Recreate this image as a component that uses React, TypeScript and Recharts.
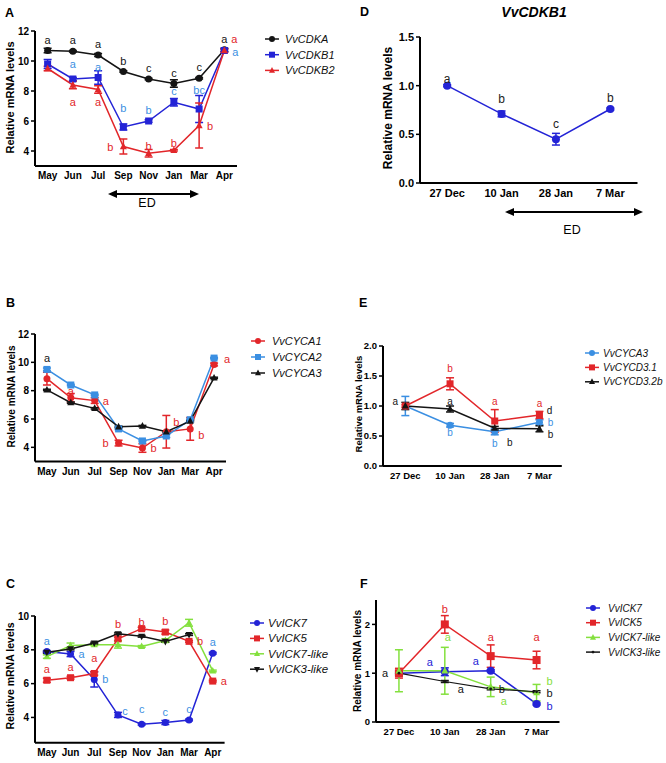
import React from 'react';
import { LineChart, Line, XAxis, YAxis, ErrorBar } from 'recharts';

const FONT = '"Liberation Sans", Arial, Helvetica, sans-serif';
const BLACK = '#141414';
const BLUE = '#2323d6';
const SKY = '#3b8fe2';
const RED = '#e2262a';
const GREEN = '#84e03e';

// x categories
const seasonMonths = ['May', 'Jun', 'Jul', 'Sep', 'Nov', 'Jan', 'Mar', 'Apr'];
const winterDates = ['27 Dec', '10 Jan', '28 Jan', '7 Mar'];

// panel A
const cdkaLevels = [10.7, 10.65, 10.4, 9.3, 8.8, 8.5, 8.85, 10.75];
const cdkaErrors = [0.15, 0.05, 0.1, 0.05, 0.05, 0.25, 0.05, 0.1];
const cdkaLetters = ['a', 'a', 'a', 'b', 'c', 'c', 'c', 'a'];
const cdkb1Levels = [9.8, 8.8, 8.9, 5.6, 6.0, 7.25, 6.8, 10.7];
const cdkb1Errors = [0.3, 0.1, 0.45, 0.2, 0.08, 0.25, 0.9, 0.1];
const cdkb1Letters = ['', 'a', 'a', 'b', 'b', 'c', 'bc', 'a'];
const cdkb2Levels = [9.5, 8.4, 8.1, 4.3, 3.85, 4.05, 5.7, 10.7];
const cdkb2Errors = [0.15, 0.25, 0.25, 0.5, 0.25, 0.05, 1.5, 0.1];
const cdkb2Letters = ['', 'a', 'a', 'b', 'b', 'b', 'b', 'a'];

// panel B
const cyca1Levels = [8.85, 7.5, 7.3, 4.3, 3.95, 5.1, 5.3, 9.85];
const cyca1Errors = [0.45, 0.3, 0.2, 0.2, 0.3, 1.15, 0.8, 0.1];
const cyca1Letters = ['', 'a', 'a', 'b', 'b', 'b', 'b', 'a'];
const cyca2Levels = [9.5, 8.4, 7.7, 5.3, 4.45, 4.8, 5.95, 10.3];
const cyca2Errors = [0.1, 0.05, 0.05, 0.05, 0.05, 0.1, 0.05, 0.05];
const cyca3Levels = [8.05, 7.15, 6.75, 5.45, 5.5, 5.1, 5.85, 8.9];
const cyca3Errors = [0.05, 0.05, 0.05, 0.05, 0.05, 0.05, 0.05, 0.05];
const cyca3Letters = ['a', '', '', '', '', '', '', ''];

// panel C
const ick7Levels = [7.9, 7.75, 6.25, 4.15, 3.6, 3.7, 3.85, 7.8];
const ick7Errors = [0.05, 0.15, 0.45, 0.15, 0.05, 0.12, 0.05, 0.05];
const ick7Letters = ['a', 'a', 'b', 'c', 'c', 'c', 'c', 'a'];
const ick5Levels = [6.2, 6.35, 6.6, 8.65, 9.25, 9.05, 8.5, 6.15];
const ick5Errors = [0.12, 0.08, 0.1, 0.1, 0.08, 0.12, 0.05, 0.05];
const ick5Letters = ['a', 'a', 'a', 'b', 'b', 'b', 'b', 'a'];
const ick7LikeLevels = [7.6, 8.25, 8.3, 8.3, 8.2, 8.55, 9.6, 6.75];
const ick7LikeErrors = [0.1, 0.15, 0.05, 0.2, 0.05, 0.1, 0.2, 0.05];
const ick3LikeLevels = [7.85, 8.05, 8.4, 8.95, 8.8, 8.5, 8.9, null];
const ick3LikeErrors = [0.05, 0.05, 0.05, 0.05, 0.05, 0.05, 0.05, 0];

// panel D
const cdkb1WinterLevels = [1.0, 0.71, 0.45, 0.76];
const cdkb1WinterErrors = [0.01, 0.03, 0.06, 0.01];
const cdkb1WinterLetters = ['a', 'b', 'c', 'b'];

// panel E
const cyca3WinterLevels = [1.0, 0.68, 0.57, 0.73];
const cyca3WinterErrors = [0.16, 0.03, 0.05, 0.04];
const cyca3WinterLetters = ['', 'b', 'b', 'b'];
const cycd31Levels = [1.0, 1.37, 0.75, 0.85];
const cycd31Errors = [0.02, 0.1, 0.19, 0.06];
const cycd31Letters = ['', 'b', 'a', 'a'];
const cycd32bLevels = [1.0, 0.95, 0.63, 0.62];
const cycd32bErrors = [0.06, 0.05, 0.03, 0.05];
const cycd32bLetters = ['a', 'a', 'b', 'b'];
const cycd32bExtraLetters = ['', '', '', 'd'];

// panel F
const ick7WinterLevels = [1.0, 1.03, 1.05, 0.37];
const ick7WinterErrors = [0.05, 0.08, 0.02, 0.02];
const ick7WinterLetters = ['', 'a', 'a', 'b'];
const ick5WinterLevels = [1.0, 2.0, 1.35, 1.27];
const ick5WinterErrors = [0.1, 0.18, 0.23, 0.18];
const ick5WinterLetters = ['', 'b', 'a', 'a'];
const ick7LikeWinterLevels = [1.05, 1.05, 0.72, 0.6];
const ick7LikeWinterErrors = [0.43, 0.48, 0.2, 0.17];
const ick7LikeWinterLetters = ['', 'a', 'a', 'b'];
const ick3LikeWinterLevels = [1.0, 0.83, 0.68, 0.62];
const ick3LikeWinterErrors = [0.02, 0.02, 0.02, 0.02];
const ick3LikeWinterLetters = ['a', 'a', 'b', 'b'];

// where each significance letter sits relative to its point
const OFFSETS: Record<string, [number, number]> = {
  u1: [0, -7], u: [0, -11], u2: [0, -15], u3: [0, -19], u4: [0, -23], u5: [0, -32], u6: [3, -34],
  d1: [0, 7], d: [0, 12], d2: [0, 17],
  r: [11, 0], r1: [11, 1], r2: [13, 0], rl: [11, 6], rb: [13, 2], rc: [13, 1], l: [-13, 0], l2: [-14, 0],
  ur: [10, -10], urh: [10, -12], ur1: [13, -5], ur2: [7, -4], ur3: [10, -18], ur4: [13, -12],
  dr: [13, 14], dr1: [11, 6], dr2: [15, 14], dr3: [16, 8],
  ul: [-15, -10], ul2: [-10, -4],
};

type Shape = 'circle' | 'square' | 'triangle' | 'down' | 'tick';
type LetterSet = { text: string[]; sides: string[]; color: string };
type SeriesDef = {
  name: string;
  values: (number | null)[];
  errors: number[];
  color: string;
  shape: Shape;
  size?: number;
  width?: number;
  letters?: LetterSet[];
};

function drawMarker(shape: Shape, cx: number, cy: number, color: string, s: number) {
  switch (shape) {
    case 'circle':
      return <circle cx={cx} cy={cy} r={s} fill={color} />;
    case 'square':
      return <rect x={cx - s} y={cy - s} width={2 * s} height={2 * s} fill={color} />;
    case 'triangle':
      return <polygon points={`${cx},${cy - s * 1.15} ${cx + s},${cy + s * 0.75} ${cx - s},${cy + s * 0.75}`} fill={color} />;
    case 'down':
      return <polygon points={`${cx},${cy + s * 1.15} ${cx + s},${cy - s * 0.75} ${cx - s},${cy - s * 0.75}`} fill={color} />;
    default:
      return <circle cx={cx} cy={cy} r={1.4} fill={color} />;
  }
}

const makeDot = (s: SeriesDef, fontSize: number) => (p: any) => {
  const { cx, cy, index } = p;
  const key = `${s.name}-${index}`;
  if (s.values[index] == null || cx == null || cy == null) return <g key={key} />;
  return (
    <g key={key}>
      {drawMarker(s.shape, cx, cy, s.color, s.size ?? 3.5)}
      {(s.letters || []).map((set, j) => {
        const t = set.text[index];
        if (!t) return null;
        const [dx, dy] = OFFSETS[set.sides[index]] || [0, -11];
        return (
          <text key={j} x={cx + dx} y={cy + dy} textAnchor="middle" dominantBaseline="central"
            fill={set.color} fontSize={fontSize} fontFamily={FONT}>{t}</text>
        );
      })}
    </g>
  );
};

type Box = { l: number; r: number; t: number; b: number };

function Panel({ box, categories, series, domain, ticks, decimals = 0, tickFont = 10, letterFont = 11 }: {
  box: Box; categories: string[]; series: SeriesDef[]; domain: [number, number]; ticks: number[];
  decimals?: number; tickFont?: number; letterFont?: number;
}) {
  const yw = 36, mt = 44, mr = 34, xh = 26;
  const plotW = box.r - box.l;
  const band = plotW / categories.length;
  const rows = categories.map((cat, i) => {
    const row: Record<string, any> = { cat };
    series.forEach((s, k) => {
      row[`v${k}`] = s.values[i];
      row[`e${k}`] = s.errors[i];
    });
    return row;
  });
  const tickStyle = { fill: '#000', fontSize: tickFont, fontWeight: 700, fontFamily: FONT };
  const axisLine = { stroke: '#000', strokeWidth: 2 };
  const tickLine = { stroke: '#000', strokeWidth: 1.5 };
  return (
    <div style={{ position: 'absolute', left: box.l - yw, top: box.t - mt }}>
      <LineChart width={yw + plotW + mr} height={mt + (box.b - box.t) + xh} data={rows}
        margin={{ top: mt, right: mr, left: 0, bottom: 0 }}>
        <XAxis dataKey="cat" interval={0} height={xh} padding={{ left: band / 2, right: band / 2 }}
          tick={tickStyle} tickSize={4} tickMargin={2} axisLine={axisLine} tickLine={false} />
        <YAxis type="number" domain={domain} ticks={ticks} width={yw} interval={0}
          tickFormatter={(v: number) => Number(v).toFixed(decimals)}
          tick={tickStyle} tickSize={4} tickMargin={2} axisLine={axisLine} tickLine={tickLine} />
        {series.map((s, k) => (
          <Line key={s.name} dataKey={`v${k}`} stroke={s.color} strokeWidth={s.width ?? 1.5}
            isAnimationActive={false} activeDot={false} dot={makeDot(s, letterFont)}>
            <ErrorBar dataKey={`e${k}`} width={4} strokeWidth={1.5} stroke={s.color} direction="y" />
          </Line>
        ))}
      </LineChart>
    </div>
  );
}

const seriesA: SeriesDef[] = [
  { name: 'VvCDKA', values: cdkaLevels, errors: cdkaErrors, color: BLACK, shape: 'circle',
    letters: [{ text: cdkaLetters, sides: ['u', 'u', 'u', 'u', 'u', 'u', 'u', 'u'], color: BLACK }] },
  { name: 'VvCDKB1', values: cdkb1Levels, errors: cdkb1Errors, color: BLUE, shape: 'square',
    letters: [{ text: cdkb1Letters, sides: ['', 'u2', 'u', 'u3', 'u', 'u', 'u3', 'r1'], color: SKY }] },
  { name: 'VvCDKB2', values: cdkb2Levels, errors: cdkb2Errors, color: RED, shape: 'triangle',
    letters: [{ text: cdkb2Letters, sides: ['', 'd2', 'd', 'l', 'u1', 'u1', 'r', 'urh'], color: RED }] },
];

const seriesB: SeriesDef[] = [
  { name: 'VvCYCA1', values: cyca1Levels, errors: cyca1Errors, color: RED, shape: 'circle',
    letters: [{ text: cyca1Letters, sides: ['', 'u1', 'r', 'l', 'r', 'ur', 'dr1', 'ur1'], color: RED }] },
  { name: 'VvCYCA2', values: cyca2Levels, errors: cyca2Errors, color: SKY, shape: 'square' },
  { name: 'VvCYCA3', values: cyca3Levels, errors: cyca3Errors, color: BLACK, shape: 'triangle',
    letters: [{ text: cyca3Letters, sides: ['u5', '', '', '', '', '', '', ''], color: BLACK }] },
];

const seriesC: SeriesDef[] = [
  { name: 'VvICK7', values: ick7Levels, errors: ick7Errors, color: BLUE, shape: 'circle',
    letters: [{ text: ick7Letters, sides: ['u', 'r', 'r', 'ur2', 'u2', 'u', 'u', 'u'], color: SKY }] },
  { name: 'VvICK5', values: ick5Levels, errors: ick5Errors, color: RED, shape: 'square',
    letters: [{ text: ick5Letters, sides: ['u', 'u', 'u2', 'u2', 'u1', 'u', 'r', 'r'], color: RED }] },
  { name: 'VvICK7-like', values: ick7LikeLevels, errors: ick7LikeErrors, color: GREEN, shape: 'triangle' },
  { name: 'VvICK3-like', values: ick3LikeLevels, errors: ick3LikeErrors, color: BLACK, shape: 'down' },
];

const seriesD: SeriesDef[] = [
  { name: 'VvCDKB1', values: cdkb1WinterLevels, errors: cdkb1WinterErrors, color: BLUE, shape: 'circle', size: 4,
    letters: [{ text: cdkb1WinterLetters, sides: ['u1', 'u2', 'u2', 'u'], color: '#222' }] },
];

const seriesE: SeriesDef[] = [
  { name: 'VvCYCA3', values: cyca3WinterLevels, errors: cyca3WinterErrors, color: SKY, shape: 'circle',
    letters: [{ text: cyca3WinterLetters, sides: ['', 'd1', 'd', 'r'], color: SKY }] },
  { name: 'VvCYCD3.1', values: cycd31Levels, errors: cycd31Errors, color: RED, shape: 'square',
    letters: [{ text: cycd31Letters, sides: ['', 'u2', 'u3', 'u'], color: RED }] },
  { name: 'VvCYCD3.2b', values: cycd32bLevels, errors: cycd32bErrors, color: BLACK, shape: 'triangle',
    letters: [
      { text: cycd32bLetters, sides: ['ul2', 'u1', 'dr2', 'rl'], color: BLACK },
      { text: cycd32bExtraLetters, sides: ['', '', '', 'ur3'], color: BLACK },
    ] },
];

const seriesF: SeriesDef[] = [
  { name: 'VvICK7', values: ick7WinterLevels, errors: ick7WinterErrors, color: BLUE, shape: 'circle', size: 4,
    letters: [{ text: ick7WinterLetters, sides: ['', 'ul', 'ul', 'rb'], color: BLUE }] },
  { name: 'VvICK5', values: ick5WinterLevels, errors: ick5WinterErrors, color: RED, shape: 'square', size: 4,
    letters: [{ text: ick5WinterLetters, sides: ['', 'u2', 'u3', 'u4'], color: RED }] },
  { name: 'VvICK7-like', values: ick7LikeWinterLevels, errors: ick7LikeWinterErrors, color: GREEN, shape: 'triangle',
    letters: [{ text: ick7LikeWinterLetters, sides: ['', 'u6', 'dr', 'ur4'], color: GREEN }] },
  { name: 'VvICK3-like', values: ick3LikeWinterLevels, errors: ick3LikeWinterErrors, color: BLACK, shape: 'tick', width: 1.2,
    letters: [{ text: ick3LikeWinterLetters, sides: ['l2', 'dr3', 'r', 'rc'], color: BLACK }] },
];

function LegendBlock({ mx, tx, y0, gap, items, fontSize }: {
  mx: number; tx: number; y0: number; gap: number; items: SeriesDef[]; fontSize: number;
}) {
  return (
    <g>
      {items.map((s, i) => {
        const y = y0 + i * gap;
        return (
          <g key={s.name}>
            <line x1={mx - 7} x2={mx + 7} y1={y} y2={y} stroke={s.color} strokeWidth={1.5} />
            {drawMarker(s.shape, mx, y, s.color, s.shape === 'tick' ? 1 : 3)}
            <text x={tx} y={y} dominantBaseline="central" fontSize={fontSize} fontStyle="italic"
              fontFamily={FONT} fill="#111">{s.name}</text>
          </g>
        );
      })}
    </g>
  );
}

function YTitle({ cx, cy, size }: { cx: number; cy: number; size: number }) {
  return (
    <text x={cx} y={cy} transform={`rotate(-90 ${cx} ${cy})`} textAnchor="middle" dominantBaseline="central"
      fontSize={size} fontWeight={700} fontFamily={FONT} fill="#000">Relative mRNA levels</text>
  );
}

function EdArrow({ x1, x2, y, tx, ty }: { x1: number; x2: number; y: number; tx: number; ty: number }) {
  return (
    <g>
      <line x1={x1 + 6} x2={x2 - 6} y1={y} y2={y} stroke="#000" strokeWidth={2} />
      <polygon points={`${x1},${y} ${x1 + 9},${y - 4} ${x1 + 9},${y + 4}`} fill="#000" />
      <polygon points={`${x2},${y} ${x2 - 9},${y - 4} ${x2 - 9},${y + 4}`} fill="#000" />
      <text x={tx} y={ty} textAnchor="middle" dominantBaseline="central" fontSize={12.5} fontFamily={FONT} fill="#000">ED</text>
    </g>
  );
}

function PanelTag({ x, y, t }: { x: number; y: number; t: string }) {
  return <text x={x} y={y} dominantBaseline="central" fontSize={12.5} fontWeight={700} fontFamily={FONT} fill="#000">{t}</text>;
}

export default function App() {
  return (
    <div style={{ position: 'absolute', left: 0, top: 0, width: 666, height: 763, background: '#fff', overflow: 'hidden' }}>
      <Panel box={{ l: 35, r: 237, t: 31, b: 166 }} categories={seasonMonths} series={seriesA}
        domain={[3, 12]} ticks={[4, 6, 8, 10, 12]} />
      <Panel box={{ l: 35, r: 226, t: 334.3, b: 461.8 }} categories={seasonMonths} series={seriesB}
        domain={[3, 12]} ticks={[4, 6, 8, 10, 12]} />
      <Panel box={{ l: 35, r: 224.6, t: 615.7, b: 742.5 }} categories={seasonMonths} series={seriesC}
        domain={[2.5, 10]} ticks={[4, 6, 8, 10]} />
      <Panel box={{ l: 419.5, r: 637, t: 36.7, b: 182.7 }} categories={winterDates} series={seriesD}
        domain={[0, 1.5]} ticks={[0, 0.5, 1, 1.5]} decimals={1} tickFont={11} letterFont={12} />
      <Panel box={{ l: 382.5, r: 561.3, t: 346, b: 466 }} categories={winterDates} series={seriesE}
        domain={[0, 2]} ticks={[0, 0.5, 1, 1.5, 2]} decimals={1} tickFont={9.5} letterFont={10} />
      <Panel box={{ l: 375.5, r: 559, t: 600, b: 722 }} categories={winterDates} series={seriesF}
        domain={[0, 2.5]} ticks={[0, 1, 2]} tickFont={9.5} letterFont={11} />

      <svg width={666} height={763} style={{ position: 'absolute', left: 0, top: 0, pointerEvents: 'none' }}>
        <PanelTag x={5} y={13} t="A" />
        <PanelTag x={6} y={303} t="B" />
        <PanelTag x={6} y={584} t="C" />
        <PanelTag x={360} y={12} t="D" />
        <PanelTag x={359} y={303} t="E" />
        <PanelTag x={360} y={584} t="F" />

        <text x={534} y={12} textAnchor="middle" dominantBaseline="central" fontSize={14} fontWeight={700}
          fontStyle="italic" fontFamily={FONT} fill="#000">VvCDKB1</text>

        <YTitle cx={10} cy={97.5} size={11} />
        <YTitle cx={11} cy={396.5} size={10} />
        <YTitle cx={10} cy={676} size={10.5} />
        <YTitle cx={388} cy={108} size={12} />
        <YTitle cx={358} cy={404} size={9.5} />
        <YTitle cx={357} cy={661} size={10} />

        <EdArrow x1={108} x2={199} y={194} tx={147} ty={203} />
        <EdArrow x1={505} x2={643} y={212} tx={572} ty={230} />

        <LegendBlock mx={272} tx={285} y0={39} gap={15.7} items={seriesA} fontSize={11} />
        <LegendBlock mx={258} tx={272} y0={341} gap={16} items={seriesB} fontSize={11} />
        <LegendBlock mx={257} tx={268} y0={623} gap={15.4} items={seriesC} fontSize={11.5} />
        <LegendBlock mx={592} tx={603} y0={353} gap={14.4} items={seriesE} fontSize={10} />
        <LegendBlock mx={593} tx={608} y0={608} gap={14.7} items={seriesF} fontSize={10} />
      </svg>
    </div>
  );
}
